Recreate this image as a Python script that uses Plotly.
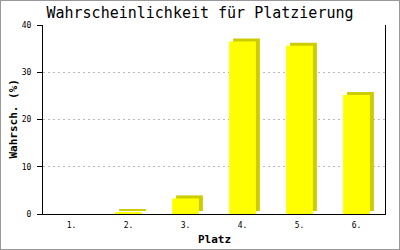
import plotly.graph_objects as go

categories = ["1.", "2.", "3.", "4.", "5.", "6."]
values = [0.0, 0.3, 3.3, 36.5, 35.6, 25.2]
y_ticks = [0, 10, 20, 30, 40]

FRONT = "#ffff00"
SHADE = "#cccc00"
W = 0.47
# 3D offset: 4px right, 3px up (plot area 342px wide / 6 cats, 189px tall / 40 units)
DX = 4 / (342 / 6)
DY = 3 / (189 / 40)

fig = go.Figure()
fig.add_trace(go.Bar(
    x=categories, y=values, base=DY, width=W, offset=-W / 2 + DX,
    marker=dict(color=SHADE, line=dict(width=0)), hoverinfo="skip",
))
fig.add_trace(go.Bar(
    x=categories, y=values, width=W,
    marker=dict(color=FRONT, line=dict(width=0)),
))

mono = "DejaVu Sans Mono"
fig.update_layout(
    width=400, height=250,
    margin=dict(l=43, r=15, t=25, b=36),
    paper_bgcolor="white", plot_bgcolor="white",
    barmode="overlay", showlegend=False,
    font=dict(family=mono, color="black", size=8),
    title=dict(text="Wahrscheinlichkeit für Platzierung", x=0.5, xanchor="center",
               y=(250 - 13) / 250, yanchor="middle", yref="container",
               font=dict(family=mono, size=15, color="black")),
    xaxis=dict(type="category", range=[-0.5, 5.5], showgrid=False,
               showline=True, linecolor="black", linewidth=1,
               ticks="outside", ticklen=3, tickcolor="white",
               tickfont=dict(family=mono, size=8), zeroline=False),
    yaxis=dict(range=[0, 40], tickvals=y_ticks, showgrid=True,
               gridcolor="#bbbbbb", gridwidth=1, griddash="2px,3px",
               showline=True, linecolor="black", linewidth=1, mirror=True,
               ticks="outside", ticklen=5, tickcolor="black",
               ticklabelstandoff=4,
               tickfont=dict(family=mono, size=8), zeroline=False),
    annotations=[
        dict(text="<b>Wahrsch. (%)</b>", xref="paper", yref="paper",
             x=(13 - 43) / 342, y=0.5, textangle=-90, showarrow=False,
             xanchor="center", yanchor="middle",
             font=dict(family=mono, size=11, color="black")),
        dict(text="<b>Platz</b>", xref="paper", yref="paper",
             x=0.5, y=(214 - 239) / 189, showarrow=False,
             xanchor="center", yanchor="middle",
             font=dict(family=mono, size=11, color="black")),
    ],
    shapes=[dict(type="rect", xref="paper", yref="paper",
                 x0=-43 / 342, x1=1 + 15 / 342, y0=-36 / 189, y1=1 + 25 / 189,
                 line=dict(color="#999999", width=2), layer="below")],
)

fig.write_html("out.html")
